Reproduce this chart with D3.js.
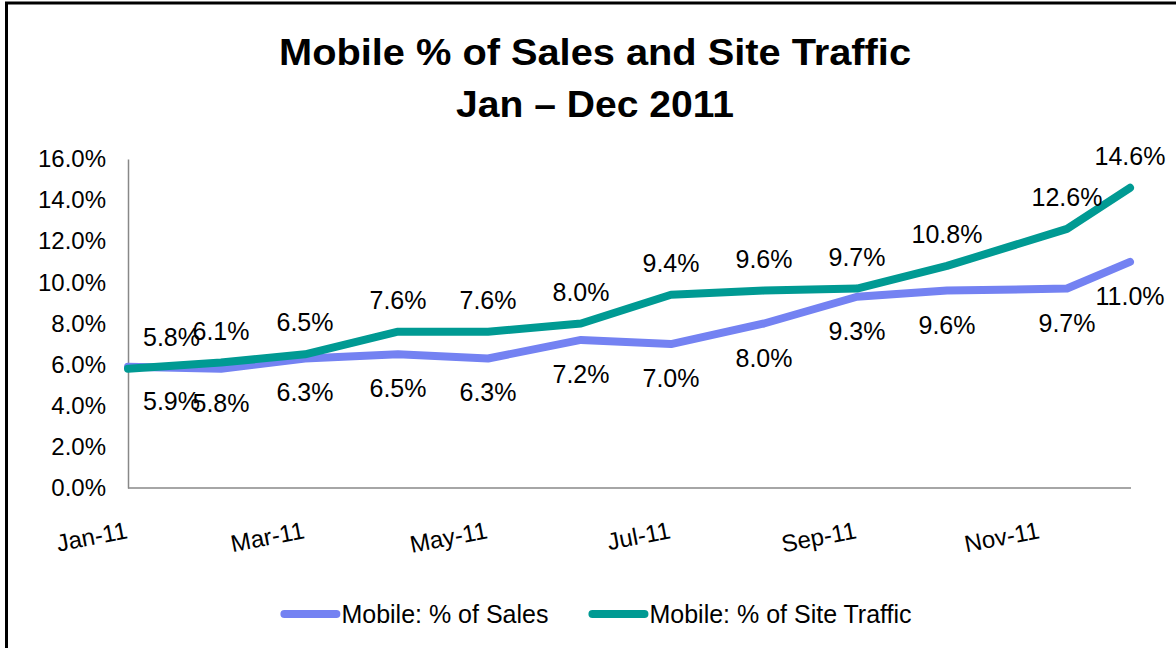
<!DOCTYPE html>
<html>
<head>
<meta charset="utf-8">
<script src="https://cdn.jsdelivr.net/npm/d3@7"></script>
<style>
  body { margin: 0; background: #fff; }
  text { font-family: "Liberation Sans", Arial, sans-serif; fill: #000; }
</style>
</head>
<body>
<div class="viz"></div>
<script>
// data (Nov point sits a little after Nov 1 on the date axis)
const months = ["2011-01-01", "2011-02-01", "2011-03-01", "2011-04-01", "2011-05-01", "2011-06-01",
  "2011-07-01", "2011-08-01", "2011-09-01", "2011-10-01", "2011-11-10", "2011-12-01"];
const salesPct = [5.9, 5.8, 6.3, 6.5, 6.3, 7.2, 7.0, 8.0, 9.3, 9.6, 9.7, 11.0];
const trafficPct = [5.8, 6.1, 6.5, 7.6, 7.6, 8.0, 9.4, 9.6, 9.7, 10.8, 12.6, 14.6];
const yTicks = [0, 2, 4, 6, 8, 10, 12, 14, 16];
const xTicks = ["2011-01-01", "2011-03-01", "2011-05-01", "2011-07-01", "2011-09-01", "2011-11-01"];
const seriesNames = ["Mobile: % of Sales", "Mobile: % of Site Traffic"];
const seriesColors = ["#7482f2", "#009a93"];
const titleLines = ["Mobile % of Sales and Site Traffic", "Jan \u2013 Dec 2011"];

const width = 1176;
const height = 648;
const plot = { left: 128, right: 1130, top: 159, bottom: 488 };

const parse = d3.timeParse("%Y-%m-%d");

const svg = d3.select(".viz")
  .append("svg")
  .attr("width", width)
  .attr("height", height);

svg.append("rect").attr("width", width).attr("height", height).attr("fill", "#fff");

// frame (left + top edges only are visible)
svg.append("line").attr("x1", 6.5).attr("x2", 6.5).attr("y1", 2).attr("y2", height)
  .attr("stroke", "#000").attr("stroke-width", 3);
svg.append("line").attr("x1", 5).attr("x2", width).attr("y1", 3).attr("y2", 3)
  .attr("stroke", "#000").attr("stroke-width", 3);

// title (condensed bold look)
const titleLen = [632, 278];
svg.selectAll("text.title")
  .data(titleLines)
  .join("text")
  .attr("class", "title")
  .attr("x", 595)
  .attr("y", (d, i) => 65 + i * 52)
  .attr("text-anchor", "middle")
  .attr("font-size", 37)
  .attr("font-weight", "bold")
  .attr("textLength", (d, i) => titleLen[i])
  .attr("lengthAdjust", "spacingAndGlyphs")
  .text(d => d);

const xScale = d3.scaleTime()
  .domain([parse(months[0]), parse("2011-12-01")])
  .range([plot.left, plot.right]);

const yScale = d3.scaleLinear()
  .domain([0, 16])
  .range([plot.bottom, plot.top]);

// y axis
const yAxis = svg.append("g")
  .attr("class", "y-axis")
  .attr("transform", `translate(${plot.left}, 0)`)
  .call(d3.axisLeft(yScale).tickValues(yTicks).tickSize(0).tickPadding(22)
    .tickFormat(d => d.toFixed(1) + "%"));
yAxis.select(".domain").attr("stroke", "#888").attr("stroke-width", 1.5);
yAxis.selectAll("text").attr("font-size", 24).attr("font-family", null);

// x axis
const xAxis = svg.append("g")
  .attr("class", "x-axis")
  .attr("transform", `translate(0, ${plot.bottom})`)
  .call(d3.axisBottom(xScale).tickValues(xTicks.map(parse)).tickSize(0).tickSizeOuter(0)
    .tickFormat(d3.timeFormat("%b-%y")));
xAxis.select(".domain").attr("stroke", "#888").attr("stroke-width", 1.5)
  .attr("d", `M${plot.left},0H${plot.right + 1}`);
xAxis.selectAll("text")
  .attr("font-size", 24)
  .attr("font-family", null)
  .attr("text-anchor", "end")
  .attr("x", 0).attr("y", 0).attr("dy", 0)
  .attr("transform", "translate(0, 50) rotate(-11)");

// lines
const series = [salesPct, trafficPct].map((vals, s) => ({
  name: seriesNames[s],
  color: seriesColors[s],
  points: vals.map((v, i) => ({ date: parse(months[i]), value: v })),
}));

const line = d3.line()
  .x(d => xScale(d.date))
  .y(d => yScale(d.value));

svg.append("g")
  .selectAll("path")
  .data(series)
  .join("path")
  .attr("d", d => line(d.points))
  .attr("fill", "none")
  .attr("stroke", d => d.color)
  .attr("stroke-width", 8)
  .attr("stroke-linejoin", "round")
  .attr("stroke-linecap", "round");

// data labels: sales below, traffic above
const labelOffset = [43, -23];
series.forEach((s, si) => {
  svg.append("g")
    .selectAll("text")
    .data(s.points)
    .join("text")
    .attr("x", d => xScale(d.date))
    .attr("y", d => yScale(d.value) + labelOffset[si])
    .attr("text-anchor", "middle")
    .attr("font-size", 25)
    .text(d => d.value.toFixed(1) + "%")
    .each(function () {
      const box = this.getBBox();
      if (box.x < plot.left + 15) {
        d3.select(this).attr("x", +d3.select(this).attr("x") + (plot.left + 15 - box.x));
      }
    });
});

// legend
const legend = svg.append("g").attr("class", "legend");
const items = legend.selectAll("g")
  .data(series)
  .join("g");
items.append("line")
  .attr("x1", 0).attr("x2", 52)
  .attr("stroke", d => d.color)
  .attr("stroke-width", 8)
  .attr("stroke-linecap", "round");
items.append("text")
  .attr("x", 57)
  .attr("dy", "0.35em")
  .attr("font-size", 25)
  .text(d => d.name);

let legendX = 0;
const itemW = [];
items.each(function () {
  itemW.push(57 + this.querySelector("text").getComputedTextLength());
});
const gap = 44;
const totalW = d3.sum(itemW) + gap * (itemW.length - 1);
items.attr("transform", (d, i) => {
  const tx = legendX;
  legendX += itemW[i] + gap;
  return `translate(${tx}, 0)`;
});
legend.attr("transform", `translate(${598 - totalW / 2}, 614)`);
</script>
</body>
</html>
